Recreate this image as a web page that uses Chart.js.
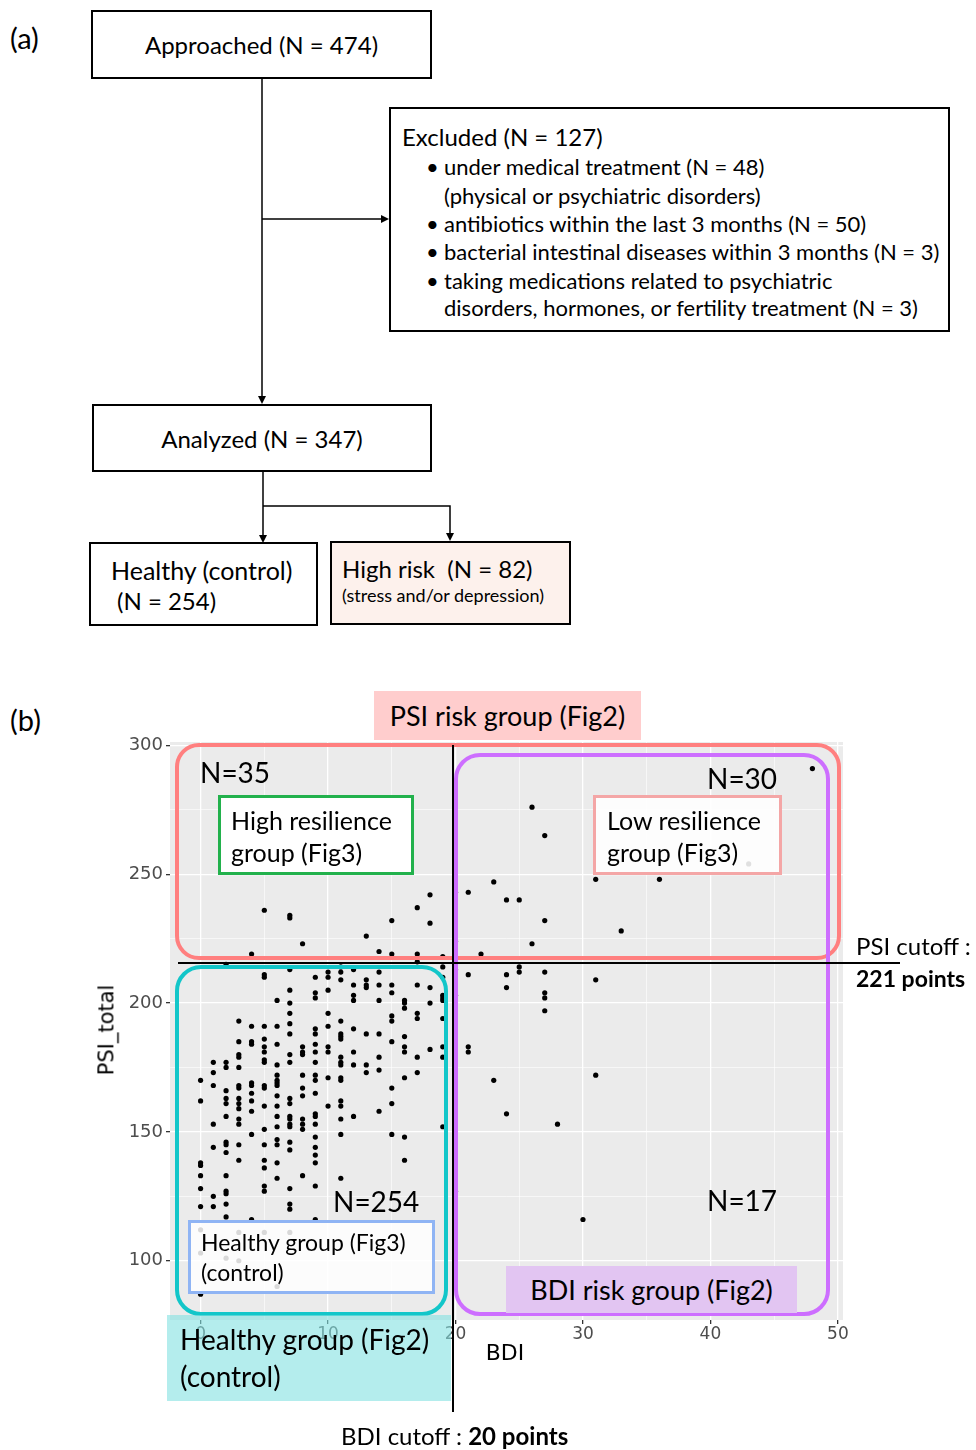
<!DOCTYPE html>
<html>
<head>
<meta charset="utf-8">
<script src="https://cdn.jsdelivr.net/npm/chart.js@4.4.1/dist/chart.umd.min.js"></script>
<style>
  html, body { margin: 0; padding: 0; background: #fff; }
  body { width: 976px; height: 1450px; position: relative; overflow: hidden;
         font-family: Lato, "Noto Sans", sans-serif; color: #000; }
  .box { position: absolute; box-sizing: border-box; border: 2px solid #000; background: #fff; }
  .t { position: absolute; white-space: pre; line-height: 1.2; }
  .c { transform: translateY(-50%); }
  .center { display: flex; align-items: center; justify-content: center; }
  .tag { position: absolute; box-sizing: border-box; }
  #chartWrap { position: absolute; left: 0; top: 680px; width: 976px; height: 770px; }
  svg { position: absolute; left: 0; top: 0; pointer-events: none; }
</style>
</head>
<body>

<!-- (a) flow chart -->
<svg width="976" height="680">
  <g stroke="#000" stroke-width="1.5" fill="none">
    <line x1="262" y1="79" x2="262" y2="398"/>
    <line x1="262" y1="219" x2="383" y2="219"/>
    <line x1="263" y1="472" x2="263" y2="536"/>
    <polyline points="263,506 450,506 450,535"/>
  </g>
  <g fill="#000">
    <path d="M258,396 L262,404 L266,396 Z"/>
    <path d="M381,215 L389,219 L381,223 Z"/>
    <path d="M259,535 L263,543 L267,535 Z"/>
    <path d="M446,533 L450,541 L454,533 Z"/>
  </g>
</svg>

<div class="t c" style="left:10px;top:38px;font-size:29px;">(a)</div>
<div class="box center" style="left:91px;top:10px;width:341px;height:69px;font-size:24px;">Approached (N = 474)</div>
<div class="box" style="left:389px;top:107px;width:561px;height:225px;"></div>
<div class="t c" style="left:402px;top:137px;font-size:24px;">Excluded (N = 127)</div>
<div class="t c" style="left:426px;top:167px;font-size:22px;">•</div>
<div class="t c" style="left:444px;top:167px;font-size:22px;">under medical treatment (N = 48)</div>
<div class="t c" style="left:444px;top:196px;font-size:22px;">(physical or psychiatric disorders)</div>
<div class="t c" style="left:426px;top:224px;font-size:22px;">•</div>
<div class="t c" style="left:444px;top:224px;font-size:22px;">antibiotics within the last 3 months (N = 50)</div>
<div class="t c" style="left:426px;top:252px;font-size:22px;">•</div>
<div class="t c" style="left:444px;top:252px;font-size:22px;">bacterial intestinal diseases within 3 months (N = 3)</div>
<div class="t c" style="left:426px;top:281px;font-size:22px;">•</div>
<div class="t c" style="left:444px;top:281px;font-size:22px;">taking medications related to psychiatric</div>
<div class="t c" style="left:444px;top:308px;font-size:22px;">disorders, hormones, or fertility treatment (N = 3)</div>

<div class="box center" style="left:92px;top:404px;width:340px;height:68px;font-size:24px;">Analyzed (N = 347)</div>
<div class="box" style="left:89px;top:542px;width:229px;height:84px;"></div>
<div class="t c" style="left:111px;top:570px;font-size:25px;">Healthy (control)</div>
<div class="t c" style="left:117px;top:601px;font-size:24px;">(N = 254)</div>
<div class="box" style="left:330px;top:541px;width:241px;height:84px;background:#fdf1ec;"></div>
<div class="t c" style="left:342px;top:569px;font-size:24px;">High risk  (N = 82)</div>
<div class="t c" style="left:342px;top:596px;font-size:18px;">(stress and/or depression)</div>

<!-- (b) scatter -->
<div class="t c" style="left:10px;top:720px;font-size:29px;">(b)</div>
<div class="tag center" style="left:374px;top:691px;width:267px;height:49px;background:#ffcdcd;font-size:27px;">PSI risk group (Fig2)</div>

<div id="chartWrap"><canvas id="chart"></canvas></div>

<div class="t" style="left:107px;top:1030px;font-family:'DejaVu Sans';font-size:21px;transform:translate(-50%,-50%) rotate(-90deg);">PSI_total</div>
<div class="t" style="left:505px;top:1353px;font-family:'DejaVu Sans';font-size:22px;transform:translate(-50%,-50%);">BDI</div>

<svg width="976" height="1450">
  <g fill="none" stroke-width="4">
    <rect x="177" y="745" width="662" height="213" rx="22" stroke="#ff7f7f"/>
    <rect x="456" y="755" width="372" height="559" rx="24" stroke="#cd6eff"/>
    <rect x="177" y="967" width="269" height="347" rx="24" stroke="#13c6c9"/>
  </g>
  <g stroke="#000" stroke-width="2">
    <line x1="453" y1="745" x2="453" y2="1412"/>
    <line x1="178" y1="963" x2="900" y2="963"/>
  </g>
</svg>

<div class="t c" style="left:200px;top:773px;font-size:28px;">N=35</div>
<div class="tag" style="left:218px;top:795px;width:196px;height:80px;border:3px solid #22b14c;background:#fff;"></div>
<div class="t c" style="left:231px;top:820px;font-size:25px;">High resilience</div>
<div class="t c" style="left:231px;top:852px;font-size:25px;">group (Fig3)</div>

<div class="t c" style="left:707px;top:779px;font-size:28px;">N=30</div>
<div class="tag" style="left:593px;top:795px;width:189px;height:80px;border:3px solid #f4a6a6;background:rgba(255,255,255,0.88);"></div>
<div class="t c" style="left:607px;top:820px;font-size:25px;">Low resilience</div>
<div class="t c" style="left:607px;top:852px;font-size:25px;">group (Fig3)</div>

<div class="t c" style="left:856px;top:946px;font-size:24px;">PSI cutoff :</div>
<div class="t c" style="left:856px;top:979px;font-size:23px;font-weight:bold;">221 points</div>

<div class="t c" style="left:333px;top:1202px;font-size:28px;">N=254</div>
<div class="tag" style="left:188px;top:1220px;width:247px;height:74px;border:3px solid #8fb4f4;background:rgba(255,255,255,0.85);"></div>
<div class="t c" style="left:201px;top:1243px;font-size:23px;">Healthy group (Fig3)</div>
<div class="t c" style="left:201px;top:1273px;font-size:23px;">(control)</div>

<div class="t c" style="left:707px;top:1201px;font-size:28px;">N=17</div>
<div class="tag center" style="left:506px;top:1266px;width:291px;height:47px;background:#e2c5f2;font-size:27px;">BDI risk group (Fig2)</div>

<div class="tag" style="left:167px;top:1315px;width:284px;height:86px;background:rgba(130,225,225,0.6);"></div>
<div class="t c" style="left:180px;top:1340px;font-size:28px;">Healthy group (Fig2)</div>
<div class="t c" style="left:180px;top:1377px;font-size:28px;">(control)</div>

<div class="t c" style="left:341px;top:1436px;font-size:24px;">BDI cutoff : <b>20 points</b></div>

<script>
// BDI score columns and the PSI_total values at each column
const bdiValues = [0, 1, 2, 3, 4, 5, 6, 7, 8, 9, 10, 11, 12, 13, 14, 15, 16, 17, 18, 19,
                   20, 21, 22, 23, 24, 25, 26, 27, 28, 30, 31, 33, 36, 43, 48];
const psiByBdi = [
  [170, 162, 138, 137, 133, 128, 121, 112, 103, 87],
  [177, 173, 168, 153, 144, 125, 121],
  [215, 177, 175, 166, 163, 161, 156, 146, 145, 142, 133, 127, 126, 122, 117, 101],
  [193, 185, 180, 179, 175, 168, 167, 163, 161, 159, 155, 153, 145, 139, 111, 100],
  [219, 191, 185, 184, 169, 168, 165, 162, 158, 149, 116],
  [236, 211, 210, 191, 186, 183, 181, 178, 177, 168, 167, 160, 151, 145, 139, 136, 129, 127, 111],
  [201, 191, 184, 176, 172, 170, 169, 168, 164, 160, 156, 152, 147, 145, 138, 132, 90],
  [234, 233, 213, 205, 200, 196, 192, 188, 180, 177, 163, 161, 156, 155, 153, 152, 146, 143, 128, 122, 120, 111],
  [223, 183, 181, 180, 172, 167, 164, 155, 153, 151, 133],
  [210, 204, 202, 190, 188, 184, 181, 177, 172, 170, 165, 157, 156, 153, 148, 144, 141, 138, 129, 116],
  [212, 210, 205, 196, 191, 183, 181, 171, 160],
  [214, 212, 209, 193, 188, 187, 186, 179, 177, 176, 171, 170, 162, 160, 155, 149, 132],
  [213, 207, 203, 201, 190, 181, 176, 156],
  [226, 209, 207, 206, 188, 176, 173],
  [220, 212, 207, 201, 188, 179, 174, 158],
  [232, 219, 207, 204, 195, 193, 185, 167, 161, 149],
  [201, 200, 198, 187, 183, 181, 171, 148, 139],
  [237, 219, 216, 207, 196, 194, 179, 173],
  [242, 231, 206, 200, 182],
  [218, 214, 210, 203, 202, 201, 194, 183, 179, 152],
  [243, 224, 213, 203, 127],
  [243, 211, 183, 181],
  [219],
  [247, 170],
  [240, 211, 206, 157],
  [240, 214, 212],
  [276, 223],
  [265, 232, 212, 204, 202, 197],
  [153],
  [116],
  [248, 209, 172],
  [228],
  [248],
  [254],
  [291]
];
const xTicks = [0, 10, 20, 30, 40, 50];
const yTicks = [100, 150, 200, 250, 300];

const points = [];
bdiValues.forEach((b, i) => {
  psiByBdi[i].forEach(p => points.push({ x: b, y: p }));
});

// grey ggplot-like panel behind the grid
const panelBg = {
  id: 'panelBg',
  beforeDraw(chart) {
    const { ctx, chartArea: a } = chart;
    ctx.save();
    ctx.fillStyle = '#ebebeb';
    ctx.fillRect(a.left, a.top, a.right - a.left, a.bottom - a.top);
    ctx.restore();
  }
};

const isMajor = (ctx, list) => ctx.tick && list.includes(ctx.tick.value);

new Chart(document.getElementById('chart'), {
  type: 'scatter',
  data: {
    datasets: [{
      data: points,
      backgroundColor: '#000',
      borderWidth: 0,
      pointRadius: 2.6,
    }],
  },
  options: {
    responsive: true,
    maintainAspectRatio: false,
    animation: false,
    layout: { padding: { left: 0, top: 62, right: 133, bottom: 0 } },
    plugins: { legend: { display: false }, tooltip: { enabled: false } },
    scales: {
      x: {
        type: 'linear',
        min: -2.4,
        max: 50.4,
        afterFit: (scale) => { scale.height = 130; },
        border: { display: false },
        grid: {
          color: '#fff',
          lineWidth: (ctx) => isMajor(ctx, xTicks) ? 1.3 : 0.6,
          tickColor: (ctx) => isMajor(ctx, xTicks) ? '#333' : 'rgba(0,0,0,0)',
          tickLength: 4,
        },
        ticks: {
          stepSize: 5,
          includeBounds: false,
          maxRotation: 0,
          autoSkip: false,
          padding: 0,
          color: '#4d4d4d',
          font: { family: 'DejaVu Sans', size: 17 },
          callback: (v) => xTicks.includes(v) ? String(v) : '',
        },
      },
      y: {
        type: 'linear',
        min: 77,
        max: 301.3,
        afterFit: (scale) => { scale.width = 170; },
        border: { display: false },
        grid: {
          color: '#fff',
          lineWidth: (ctx) => isMajor(ctx, yTicks) ? 1.3 : 0.6,
          tickColor: (ctx) => isMajor(ctx, yTicks) ? '#333' : 'rgba(0,0,0,0)',
          tickLength: 4,
        },
        ticks: {
          stepSize: 25,
          includeBounds: false,
          autoSkip: false,
          padding: 3,
          color: '#4d4d4d',
          font: { family: 'DejaVu Sans', size: 18 },
          callback: (v) => yTicks.includes(v) ? String(v) : '',
        },
      },
    },
  },
  plugins: [panelBg],
});
</script>
</body>
</html>
